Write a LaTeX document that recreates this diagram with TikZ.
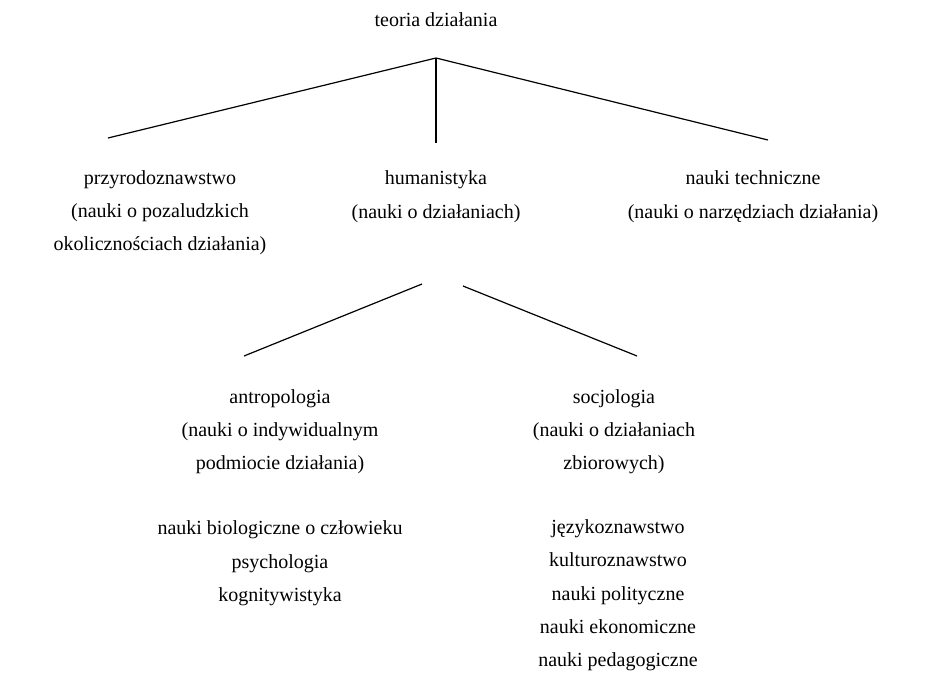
\documentclass[tikz,border=0pt]{standalone}
\usepackage{fontspec}
\setmainfont{Liberation Serif}

\tikzset{
  field/.style={anchor=base, inner sep=0.75pt, align=center, font=\fontsize{15}{25}\selectfont},
  branch/.style={line width=0.9pt}
}

\begin{document}
\begin{tikzpicture}[x=0.75pt,y=0.75pt,yscale=-1,xscale=1]
\useasboundingbox (0,0) rectangle (941,672);

% Text Node (base = baseline of the last line)
\draw (436,26) node [field] (teoria) {teoria działania};
% Text Node
\draw (160,250.7) node [field] (przyroda) {przyrodoznawstwo\\(nauki o pozaludzkich\\okoliczności­ach działania)};
% Text Node
\draw (436,218.3) node [field] (human) {humanistyka\\(nauki o działaniach)};
% Text Node
\draw (753,218.3) node [field] (techn) {nauki techniczne\\(nauki o narzędziach działania)};
% Text Node
\draw (280,469.7) node [field] (antrop) {antropologia\\(nauki o indywidualnym\\podmiocie działania)};
% Text Node
\draw (614,469.7) node [field] (socjo) {socjologia\\(nauki o działaniach\\zbiorowych)};
% Text Node
\draw (280,601.5) node [field] (antropList) {nauki biologiczne o człowieku\\psychologia\\kognitywistyka};
% Text Node
\draw (618,666.8) node [field] (socjoList) {językoznawstwo\\kulturoznawstwo\\nauki polityczne\\nauki ekonomiczne\\nauki pedagogiczne};

% Branch points
\coordinate (apex) at (436,58);
\coordinate (przyrodaTop) at (108,138);
\coordinate (humanTop) at (436,143);
\coordinate (technTop) at (768,140);
\coordinate (humanLeft) at (422,284);
\coordinate (humanRight) at (463,286);
\coordinate (antropTop) at (244,356);
\coordinate (socjoTop) at (637,356);

%Straight Lines
\draw [branch] (apex) -- (przyrodaTop);
%Straight Lines
\draw [branch] (apex) -- (humanTop);
%Straight Lines
\draw [branch] (apex) -- (technTop);
%Straight Lines
\draw [branch] (humanLeft) -- (antropTop);
%Straight Lines
\draw [branch] (humanRight) -- (socjoTop);

\end{tikzpicture}
\end{document}
